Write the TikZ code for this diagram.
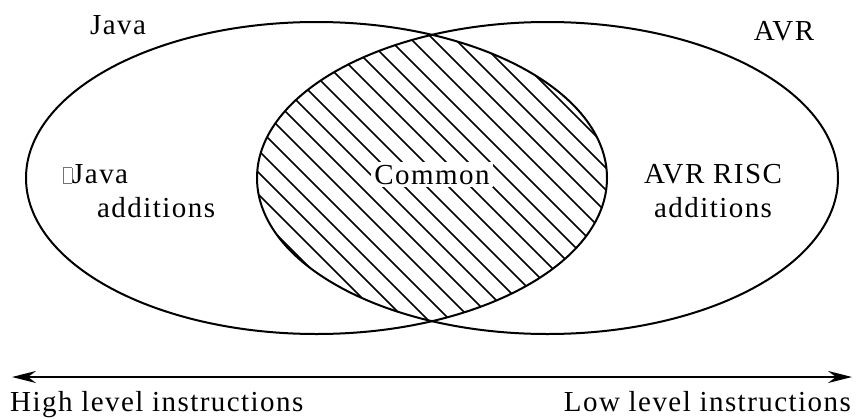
\documentclass[tikz,border=0pt]{standalone}
\usepackage{fontspec}
\setmainfont{Liberation Serif}[LetterSpace=5]
\usetikzlibrary{positioning,arrows.meta}
\newcommand{\missbox}{{\color{black!55}\fboxsep=0pt\fboxrule=0.6pt\framebox[9pt]{\rule{0pt}{15pt}}}}
\tikzset{
setline/.style={line width=2pt,black},
hatchline/.style={line width=1.5pt,black},
setlabel/.style={font=\fontsize{29}{34}\selectfont,inner sep=0pt,align=center},
scalearrow/.style={{Stealth[length=24pt,width=12pt,inset=8pt]}-{Stealth[length=24pt,width=12pt,inset=8pt]},line width=2pt}
}
\begin{document}
\begin{tikzpicture}[x=1pt,y=-1pt]
\useasboundingbox (0,0) rectangle (857,418);
\coordinate (jc) at (316.5,178);
\coordinate (ac) at (547.5,178);
% common part
\begin{scope}
\clip (jc) ellipse [x radius=290.5,y radius=156];
\clip (ac) ellipse [x radius=290.5,y radius=156];
\foreach \c in {-90,-68,...,620}
  \draw[hatchline] (\c,0) -- ++(420,420);
\end{scope}
\draw[setline] (jc) ellipse [x radius=290.5,y radius=156];
\draw[setline] (ac) ellipse [x radius=290.5,y radius=156];
% labels
\node[setlabel,anchor=base] (java) at (118,34) {Java};
\node[setlabel,anchor=base] (avr) at (784,40) {AVR};
\node[setlabel,align=left,anchor=base west] (jadd) at (63,217) {\missbox Java\\\hspace*{34pt}additions};
\node[setlabel,fill=white,inner sep=3pt,anchor=base] (common) at (432,184) {Common};
\node[setlabel,anchor=base] (radd) at (713,217) {AVR RISC\\additions};
% level scale
\coordinate (hleft) at (12,377);
\coordinate (lright) at (852,377);
\draw[scalearrow] (hleft) -- (lright);
\node[setlabel,below right=14.5pt and -2pt of hleft] (high) {High level instructions};
\node[setlabel,below left=14.5pt and 1pt of lright] (low) {Low level instructions};
\end{tikzpicture}
\end{document}
